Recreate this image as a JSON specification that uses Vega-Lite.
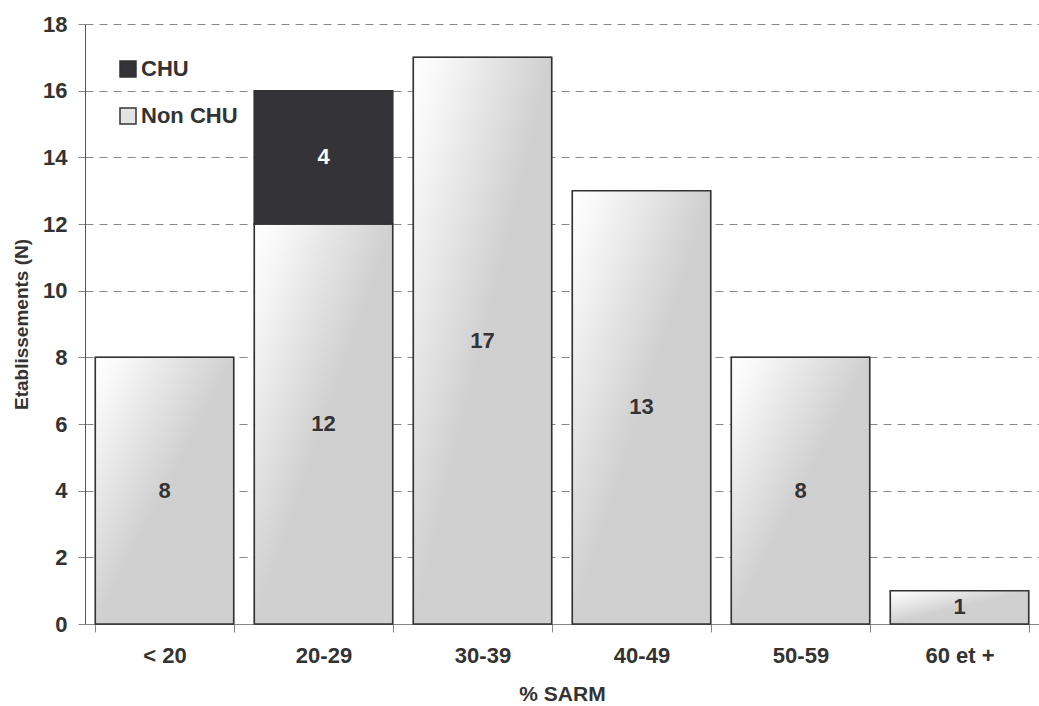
{
  "$schema": "https://vega.github.io/schema/vega-lite/v6.json",
  "width": 954,
  "height": 600,
  "autosize": "none",
  "padding": {"left": 85, "top": 24, "right": 0, "bottom": 82},
  "background": "white",
  "config": {
    "view": {"stroke": null},
    "font": "Liberation Sans"
  },
  "data": {
    "values": [
      {"cat": "< 20", "type": "Non CHU", "ord": 1, "n": 8},
      {"cat": "20-29", "type": "Non CHU", "ord": 1, "n": 12},
      {"cat": "20-29", "type": "CHU", "ord": 2, "n": 4},
      {"cat": "30-39", "type": "Non CHU", "ord": 1, "n": 17},
      {"cat": "40-49", "type": "Non CHU", "ord": 1, "n": 13},
      {"cat": "50-59", "type": "Non CHU", "ord": 1, "n": 8},
      {"cat": "60 et +", "type": "Non CHU", "ord": 1, "n": 1}
    ]
  },
  "encoding": {
    "x": {
      "field": "cat",
      "type": "nominal",
      "sort": ["< 20", "20-29", "30-39", "40-49", "50-59", "60 et +"],
      "scale": {"paddingInner": 0.13, "paddingOuter": 0.065},
      "axis": {
        "title": "% SARM",
        "labelAngle": 0,
        "labelFont": "Liberation Sans",
        "labelFontWeight": "bold",
        "labelFontSize": 22,
        "labelColor": "#333333",
        "labelPadding": 13,
        "tickBand": "extent",
        "tickSize": 8,
        "tickColor": "#888888",
        "domainColor": "#888888",
        "titleFont": "Liberation Sans",
        "titleFontWeight": "bold",
        "titleFontSize": 21,
        "titleColor": "#333333",
        "titlePadding": 17
      }
    },
    "y": {
      "field": "n",
      "type": "quantitative",
      "stack": "zero",
      "scale": {"domain": [0, 18]},
      "axis": {
        "title": "Etablissements (N)",
        "values": [0, 2, 4, 6, 8, 10, 12, 14, 16, 18],
        "labelFont": "Liberation Sans",
        "labelFontWeight": "bold",
        "labelFontSize": 22,
        "labelColor": "#333333",
        "labelPadding": 11,
        "tickSize": 7,
        "tickColor": "#888888",
        "domainColor": "#555555",
        "grid": true,
        "gridDash": [8, 6],
        "gridColor": "#888888",
        "gridWidth": 1,
        "titleFont": "Liberation Sans",
        "titleFontWeight": "bold",
        "titleFontSize": 19,
        "titleColor": "#333333",
        "titlePadding": 11
      }
    },
    "order": {"field": "ord", "type": "quantitative"}
  },
  "layer": [
    {
      "mark": {"type": "bar", "stroke": "#333333", "strokeWidth": 1.2},
      "encoding": {
        "color": {
          "field": "type",
          "type": "nominal",
          "scale": {
            "domain": ["CHU", "Non CHU"],
            "range": ["#333338", "#e4e4e4"]
          },
          "legend": {
            "title": null,
            "orient": "none",
            "legendX": 32,
            "legendY": 34,
            "symbolType": "square",
            "symbolSize": 256,
            "labelFont": "Liberation Sans",
            "labelFontWeight": "bold",
            "labelFontSize": 22,
            "labelColor": "#333333",
            "labelOffset": 2,
            "rowPadding": 25
          }
        }
      }
    },
    {
      "mark": {
        "type": "bar",
        "stroke": "#333333",
        "strokeWidth": 1.5
      },
      "encoding": {
        "color": {
          "condition": {"test": "datum.type === 'CHU'", "value": "#333338"},
          "value": {
            "gradient": "linear",
            "x1": 0, "y1": 0, "x2": 0.5, "y2": 0.5,
            "stops": [
              {"offset": 0, "color": "#ffffff"},
              {"offset": 0.2, "color": "#f8f8f8"},
              {"offset": 1, "color": "#d0d0d0"}
            ]
          }
        }
      }
    },
    {
      "transform": [
        {"stack": "n", "groupby": ["cat"], "sort": [{"field": "ord"}], "as": ["y0", "y1"]},
        {"calculate": "0.5 * datum.y0 + 0.5 * datum.y1", "as": "mid"},
        {"filter": "datum.type === 'Non CHU'"}
      ],
      "mark": {
        "type": "text",
        "font": "Liberation Sans",
        "fontWeight": "bold",
        "fontSize": 22,
        "baseline": "middle",
        "color": "#333333"
      },
      "encoding": {
        "y": {"field": "mid", "type": "quantitative"},
        "order": null,
        "text": {"field": "n", "type": "quantitative"}
      }
    },
    {
      "transform": [
        {"stack": "n", "groupby": ["cat"], "sort": [{"field": "ord"}], "as": ["y0", "y1"]},
        {"calculate": "0.5 * datum.y0 + 0.5 * datum.y1", "as": "mid"},
        {"filter": "datum.type === 'CHU'"}
      ],
      "mark": {
        "type": "text",
        "font": "Liberation Sans",
        "fontWeight": "bold",
        "fontSize": 22,
        "baseline": "middle",
        "color": "#ffffff"
      },
      "encoding": {
        "y": {"field": "mid", "type": "quantitative"},
        "order": null,
        "text": {"field": "n", "type": "quantitative"}
      }
    }
  ]
}
